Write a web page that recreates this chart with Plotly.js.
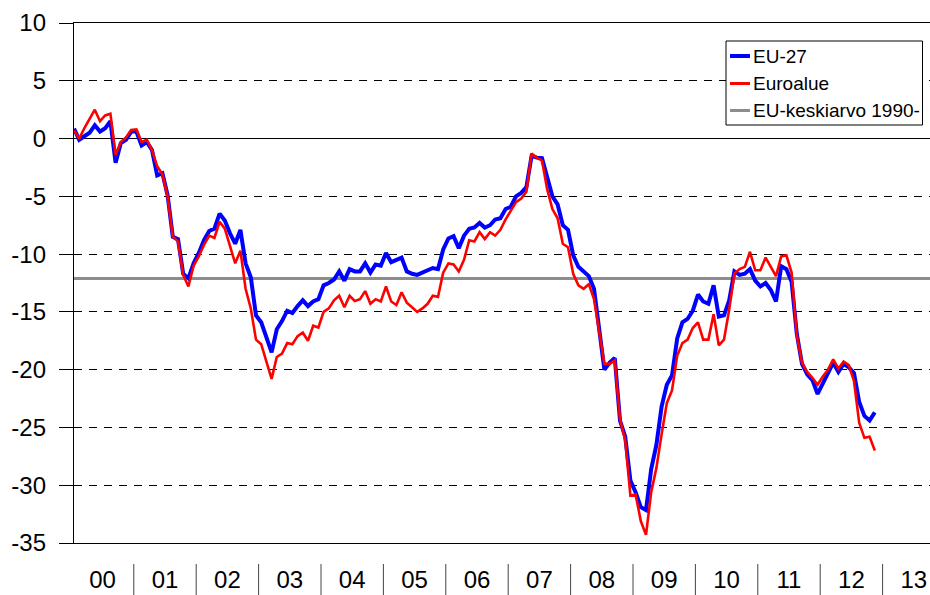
<!DOCTYPE html>
<html>
<head>
<meta charset="utf-8">
<script src="https://cdn.plot.ly/plotly-3.0.1.min.js"></script>
<style>
  html, body { margin: 0; padding: 0; background: #ffffff; }
  #chart { width: 930px; height: 595px; }
</style>
</head>
<body>
<div id="chart"></div>
<script>
// Monthly observations, Jan 2000 – Nov 2012 (index 0 = Jan 2000)
const eu27 = [
  0.85, -0.1, 0.2, 0.5, 1.15, 0.6, 0.9, 1.5, -2.1, -0.4, -0.1, 0.6,
  0.6, -0.6, -0.3, -1.0, -3.2, -3.0, -4.9, -8.5, -8.7, -11.7, -12.1, -10.8,
  -9.9, -8.8, -8.0, -7.8, -6.5, -7.1, -8.2, -9.1, -7.9, -10.8, -12.0, -15.3,
  -15.9, -17.2, -18.5, -16.5, -15.8, -14.9, -15.1, -14.5, -14.0, -14.5, -14.1, -13.9,
  -12.7, -12.5, -12.2, -11.5, -12.3, -11.3, -11.5, -11.5, -10.8, -11.6, -10.9, -11.0,
  -9.9, -10.7, -10.5, -10.3, -11.5, -11.7, -11.8, -11.6, -11.4, -11.2, -11.3, -9.6,
  -8.65, -8.45, -9.5, -8.4, -7.8, -7.7, -7.3, -7.7, -7.5, -7.0, -6.9, -6.1,
  -5.9, -5.0, -4.7, -4.2, -1.5, -1.65, -1.7, -3.4, -5.0, -5.7, -7.5, -7.9,
  -10.1, -11.1, -11.5, -11.9, -13.0, -16.4, -20.0, -19.4, -19.0, -24.4, -25.8, -29.6,
  -30.6, -31.9, -32.15, -28.6, -26.5, -23.2, -21.3, -20.5, -17.3, -15.9, -15.6, -14.9,
  -13.5, -14.1, -14.3, -12.7, -15.4, -15.3, -14.0, -11.5, -11.8, -11.7, -11.3, -12.3,
  -12.8, -12.5, -13.1, -14.1, -11.05, -11.3, -12.4, -16.9, -19.5, -20.4, -20.9, -22.1,
  -21.1, -20.3, -19.4, -20.2, -19.5, -19.8, -20.3, -22.8, -24.0, -24.4, -23.7
];
const euroalue = [
  0.7, 0.0, 0.9, 1.7, 2.5, 1.5, 2.0, 2.15, -1.4, -0.3, 0.1, 0.75,
  0.8, -0.3, -0.1, -1.0, -2.4, -3.1, -5.0, -8.5, -8.9, -11.8, -12.8, -11.0,
  -10.2, -9.2, -8.4, -8.6, -7.2, -7.8, -9.4, -10.8, -9.7, -13.0, -14.7, -17.4,
  -17.8, -19.4, -20.8, -18.9, -18.6, -17.7, -17.8, -17.1, -16.8, -17.5, -16.2, -16.35,
  -15.0, -14.7, -14.0, -13.6, -14.6, -13.6, -14.05, -13.9, -13.2, -14.3, -13.9, -14.1,
  -12.8, -14.1, -14.4, -13.3, -14.2, -14.6, -15.0, -14.7, -14.3, -13.6, -13.7, -11.6,
  -10.8, -10.9, -11.5, -10.5, -8.8, -8.9, -8.1, -8.7, -8.1, -8.4, -7.9, -7.0,
  -6.3, -5.5, -5.2, -4.6, -1.3, -1.65, -1.9, -4.4, -6.1, -6.9, -9.1, -9.4,
  -11.7, -12.7, -13.0, -12.6, -13.9, -16.6, -19.5, -19.5, -19.2, -24.3, -26.1, -30.9,
  -30.8, -33.1, -34.3, -30.6, -28.5, -25.6, -22.9, -21.8, -18.8, -17.7, -17.4, -16.4,
  -15.9, -17.4, -17.4, -15.2, -17.9, -17.4, -14.8, -11.7, -11.3, -11.1, -9.8, -11.4,
  -11.4, -10.3, -11.05, -11.9, -10.2, -10.1, -11.6, -17.0, -19.4, -20.2, -20.7, -21.3,
  -20.6, -20.0, -19.1, -19.9, -19.3, -19.6, -21.0, -24.6, -25.9, -25.8, -27.0
];
const euAverage1990 = -12.1;
const yearLabels = ['00','01','02','03','04','05','06','07','08','09','10','11','12','13'];
const yTickValues = [-35, -30, -25, -20, -15, -10, -5, 0, 5, 10];
const yTickLabels = ['-35','-30','-25','-20','-15','-10','-5','0','5','10'];
const seriesNames = ['EU-27', 'Euroalue', 'EU-keskiarvo 1990-'];

const monthIndex = eu27.map((_, i) => i);
const xRange = [0, 164.615];
const yearTickPos = yearLabels.map((_, k) => 12 * k + 5.5);
const yearBounds = yearLabels.slice(1).map((_, k) => 12 * (k + 1) - 0.5);

const FONT = 'Arial, "Liberation Sans", sans-serif';
const colors = ['#0000ff', '#ff0000', '#8c8c8c'];
const widths = [4, 2.6, 3];

const traces = [
  { x: xRange, y: [euAverage1990, euAverage1990], mode: 'lines', name: seriesNames[2],
    line: { color: colors[2], width: widths[2] }, hoverinfo: 'skip' },
  { x: monthIndex, y: eu27, mode: 'lines', name: seriesNames[0],
    line: { color: colors[0], width: widths[0], shape: 'linear' } },
  { x: monthIndex, y: euroalue, mode: 'lines', name: seriesNames[1],
    line: { color: colors[1], width: widths[1], shape: 'linear' } }
];

// plot-area geometry in pixels (for paper coords of the hand-drawn legend)
const W = 930, H = 595, ML = 74, MR = 0, MT = 23, MB = 52;
const PW = W - ML - MR, PH = H - MT - MB;
const px = v => (v - ML) / PW;
const py = v => (H - MB - v) / PH;

const shapes = [];
yearBounds.forEach(b => shapes.push({
  type: 'line', xref: 'x', yref: 'paper', x0: b, x1: b, y0: py(564), y1: py(597),
  line: { color: '#444', width: 1 }
}));
// legend box
shapes.push({ type: 'rect', xref: 'paper', yref: 'paper',
  x0: px(726), x1: px(922.5), y0: py(125), y1: py(41),
  line: { color: '#000', width: 1 }, fillcolor: '#ffffff', layer: 'above' });
const legendRows = [56, 83.5, 110.5];
const order = [0, 1, 2];
const annotations = [];
order.forEach((s, r) => {
  shapes.push({ type: 'line', xref: 'paper', yref: 'paper',
    x0: px(730), x1: px(750), y0: py(legendRows[r]), y1: py(legendRows[r]),
    line: { color: colors[s], width: s === 0 ? 4 : 3 }, layer: 'above' });
  annotations.push({ xref: 'paper', yref: 'paper', x: px(751), y: py(legendRows[r]),
    xanchor: 'left', yanchor: 'middle', showarrow: false, text: seriesNames[s],
    font: { family: FONT, size: 19, color: '#000' } });
});

const layout = {
  width: W, height: H,
  margin: { l: ML, r: MR, t: MT, b: MB, pad: 0 },
  paper_bgcolor: '#ffffff', plot_bgcolor: '#ffffff',
  showlegend: false,
  font: { family: FONT, size: 24, color: '#000' },
  xaxis: {
    range: xRange, fixedrange: true,
    tickmode: 'array', tickvals: yearTickPos, ticktext: yearLabels,
    ticks: '', showgrid: false, zeroline: false,
    showline: true, mirror: true, linecolor: '#000', linewidth: 1,
    tickfont: { family: FONT, size: 24, color: '#000' },
    ticklabelstandoff: 15
  },
  yaxis: {
    range: [-35, 10], fixedrange: true,
    tickmode: 'array', tickvals: yTickValues, ticktext: yTickLabels,
    ticks: 'outside', ticklen: 14, tickcolor: '#000', tickwidth: 1,
    showgrid: true, gridcolor: '#000', gridwidth: 1, griddash: '8px,7px',
    zeroline: true, zerolinecolor: '#000', zerolinewidth: 1.5,
    showline: true, linecolor: '#000', linewidth: 1.2,
    tickfont: { family: FONT, size: 24, color: '#000' },
    ticklabelstandoff: 8
  },
  shapes: shapes,
  annotations: annotations
};

Plotly.newPlot('chart', traces, layout, { staticPlot: true, displayModeBar: false });
</script>
</body>
</html>
